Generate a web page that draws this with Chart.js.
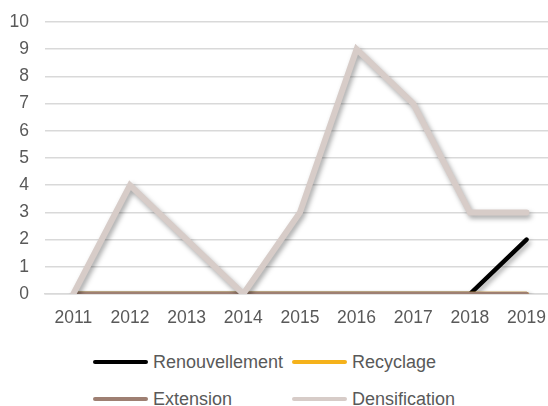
<!DOCTYPE html>
<html>
<head>
<meta charset="utf-8">
<script src="https://cdn.jsdelivr.net/npm/chart.js@4/dist/chart.umd.min.js"></script>
<style>
  body { margin: 0; background: #fff; width: 548px; height: 406px; overflow: hidden; position: relative; font-family: "Liberation Sans", Arial, sans-serif; }
  .wrap { position: absolute; left: 0; top: 0; width: 560px; height: 343px; }
  .legend { position: absolute; left: 0; top: 0; }
  .legend-item { position: absolute; display: flex; align-items: center; font-size: 18px; line-height: 22px; color: #595959; white-space: nowrap; }
  .legend-item span.sample { display: inline-block; width: 55px; height: 4px; border-radius: 2px; margin-right: 5px; }
</style>
</head>
<body>
<div class="wrap"><canvas id="chart"></canvas></div>
<div class="legend" id="legend"></div>
<script>
let years = ['2011', '2012', '2013', '2014', '2015', '2016', '2017', '2018', '2019'];
let renouvellement = [0, 0, 0, 0, 0, 0, 0, 0, 2];
let recyclage = [0, 0, 0, 0, 0, 0, 0, 0, 0];
let extension = [0, 0, 0, 0, 0, 0, 0, 0, 0];
let densification = [0, 4, 2, 0, 3, 9, 7, 3, 3];

// shadow under each line, like the office chart
const lineShadow = {
    id: 'lineShadow',
    beforeDatasetDraw(chart) {
        let ctx = chart.ctx;
        ctx.save();
        ctx.shadowColor = 'rgba(0,0,0,0.35)';
        ctx.shadowBlur = 5;
        ctx.shadowOffsetX = 2;
        ctx.shadowOffsetY = 3;
    },
    afterDatasetDraw(chart) {
        chart.ctx.restore();
    }
};

function createChart() {
    let ctx = document.getElementById('chart').getContext('2d');
    return new Chart(ctx, {
        type: 'line',
        data: {
            labels: years,
            datasets: [{
                label: 'Renouvellement',
                data: renouvellement,
                borderColor: '#000000',
                borderWidth: 4.5,
                order: 3
            }, {
                label: 'Recyclage',
                data: recyclage,
                borderColor: '#f5b21b',
                borderWidth: 4.5,
                order: 2
            }, {
                label: 'Extension',
                data: extension,
                borderColor: '#9e7f72',
                borderWidth: 4.5,
                order: 1
            }, {
                label: 'Densification',
                data: densification,
                borderColor: '#d7ccc8',
                borderWidth: 6,
                order: 0
            }]
        },
        options: {
            responsive: false,
            animation: false,
            maintainAspectRatio: false,
            layout: { padding: { top: 22, right: 0, left: 9, bottom: 0 } },
            elements: {
                point: { radius: 0, hoverRadius: 0 },
                line: { tension: 0, borderCapStyle: 'round', borderJoinStyle: 'miter', fill: false }
            },
            plugins: {
                legend: { display: false },
                tooltip: { enabled: false }
            },
            scales: {
                x: {
                    offset: true,
                    grid: { display: false, drawTicks: false },
                    border: { display: true, color: '#d9d9d9', width: 1.5 },
                    ticks: { color: '#595959', font: { family: 'Liberation Sans', size: 17.5 }, padding: 14, maxRotation: 0 }
                },
                y: {
                    min: 0,
                    max: 10,
                    afterFit: scale => {
                        scale.width = 36;
                        scale.paddingTop = 0;
                        scale.paddingBottom = 0;
                    },
                    ticks: { stepSize: 1, color: '#595959', font: { family: 'Liberation Sans', size: 17.5 }, padding: 16 },
                    grid: { color: '#d9d9d9', lineWidth: 1.5, drawTicks: false },
                    border: { display: false }
                }
            }
        },
        plugins: [lineShadow]
    });
}

function createLegend(chart) {
    let legend = document.getElementById('legend');
    chart.data.datasets.forEach((ds, i) => {
        let col = i % 2, row = Math.floor(i / 2);
        let item = document.createElement('div');
        item.className = 'legend-item';
        item.style.left = (93 + col * 199) + 'px';
        item.style.top = (351 + row * 37) + 'px';
        item.innerHTML = `<span class="sample" style="background:${ds.borderColor}"></span>${ds.label}`;
        legend.appendChild(item);
    });
}

let canvas = document.getElementById('chart');
canvas.width = 560;
canvas.height = 343;
let chart = createChart();
createLegend(chart);
</script>
</body>
</html>
